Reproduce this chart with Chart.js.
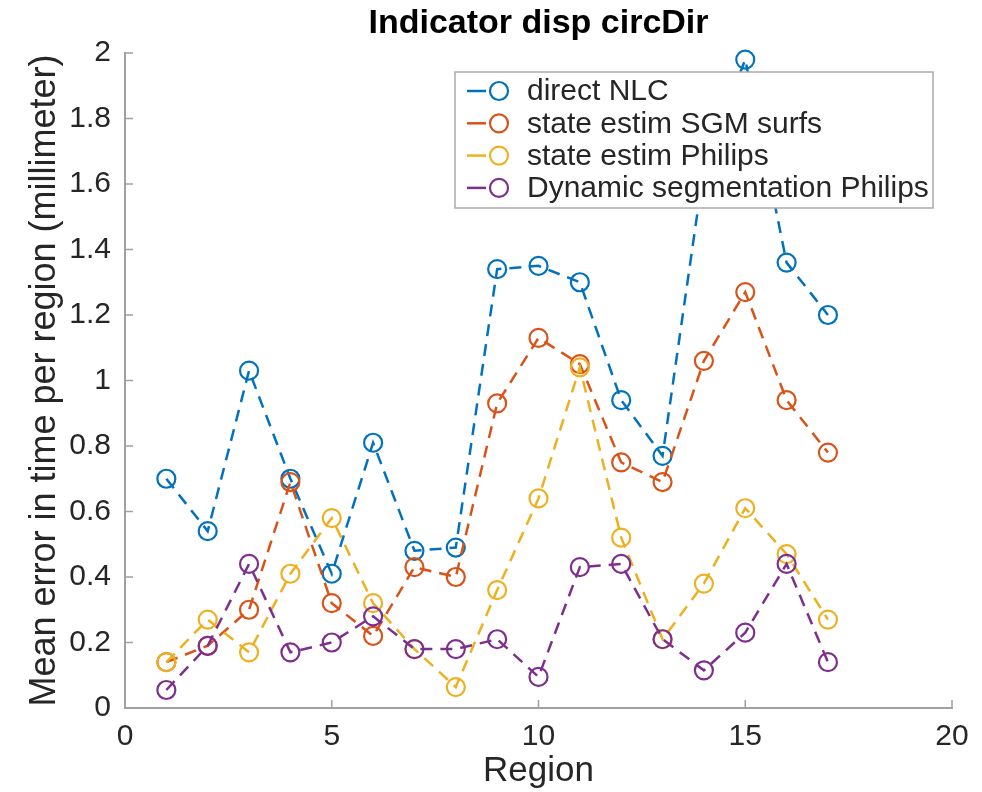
<!DOCTYPE html>
<html>
<head>
<meta charset="utf-8">
<title>Indicator disp circDir</title>
<script src="https://cdn.jsdelivr.net/npm/chart.js@4.4.1/dist/chart.umd.min.js"></script>
<style>
  body { margin: 0; background: #fff; }
  #wrap { width: 982px; height: 792px; }
</style>
</head>
<body>
<div id="wrap"><canvas id="myChart" width="982" height="792"></canvas></div>
<script>
const regions = [1, 2, 3, 4, 5, 6, 7, 8, 9, 10, 11, 12, 13, 14, 15, 16, 17];
const directNLC = [0.70, 0.54, 1.03, 0.70, 0.41, 0.81, 0.48, 0.49, 1.34, 1.35, 1.30, 0.94, 0.77, 1.65, 1.98, 1.36, 1.20];
const sgmSurfs = [0.14, 0.19, 0.30, 0.69, 0.32, 0.22, 0.43, 0.40, 0.93, 1.13, 1.05, 0.75, 0.69, 1.06, 1.27, 0.94, 0.78];
const estimPhilips = [0.14, 0.27, 0.17, 0.41, 0.58, 0.32, 0.18, 0.064, 0.36, 0.64, 1.04, 0.52, 0.21, 0.38, 0.61, 0.47, 0.27];
const dynSegPhilips = [0.055, 0.19, 0.44, 0.17, 0.20, 0.28, 0.18, 0.18, 0.21, 0.095, 0.43, 0.44, 0.21, 0.115, 0.23, 0.44, 0.14];
const seriesNames = ["direct NLC", "state estim SGM surfs", "state estim Philips", "Dynamic segmentation Philips"];
const seriesColors = ["#0072BD", "#D95319", "#EDB120", "#7E2F8E"];
const xTicks = [0, 5, 10, 15, 20];

const fontFam = "'Liberation Sans', Arial, Helvetica, sans-serif";
const textCol = "#262626";
const axisCol = "#a0a0a0";

function makeSet(i, values) {
  return {
    label: seriesNames[i],
    data: regions.map((r, k) => ({ x: r, y: values[k] })),
    borderColor: seriesColors[i],
    backgroundColor: "rgba(0,0,0,0)",
    pointBorderColor: seriesColors[i],
    pointBackgroundColor: "rgba(0,0,0,0)",
    pointRadius: 9,
    pointBorderWidth: 2.2,
    borderWidth: 2.5,
    borderDash: [12, 8],
    tension: 0,
    fill: false,
    clip: false,
    order: 4 - i
  };
}

// inward tick marks like matlab
const tickMarks = {
  id: "tickMarks",
  afterDraw(chart) {
    const ctx = chart.ctx;
    const xs = chart.scales.x;
    const ys = chart.scales.y;
    const area = chart.chartArea;
    ctx.save();
    ctx.strokeStyle = axisCol;
    ctx.lineWidth = 1.5;
    ctx.beginPath();
    xs.ticks.forEach(t => {
      const px = xs.getPixelForValue(t.value);
      ctx.moveTo(px, area.bottom);
      ctx.lineTo(px, area.bottom - 8);
    });
    ys.ticks.forEach(t => {
      const py = ys.getPixelForValue(t.value);
      ctx.moveTo(area.left, py);
      ctx.lineTo(area.left + 8, py);
    });
    ctx.stroke();
    ctx.restore();
  }
};

// legend box inside the axes, top right
const boxLegend = {
  id: "boxLegend",
  afterDatasetsDraw(chart) {
    const ctx = chart.ctx;
    const bx = 455, by = 72, bw = 478, bh = 136;
    ctx.save();
    ctx.fillStyle = "#fff";
    ctx.fillRect(bx, by, bw, bh);
    ctx.strokeStyle = "#aaaaaa";
    ctx.lineWidth = 1.5;
    ctx.strokeRect(bx, by, bw, bh);
    ctx.font = "30px " + fontFam;
    ctx.textBaseline = "middle";
    ctx.textAlign = "left";
    seriesNames.forEach((name, i) => {
      const cy = 91 + i * 32.3;
      ctx.strokeStyle = seriesColors[i];
      ctx.lineWidth = 2.5;
      ctx.beginPath();
      ctx.moveTo(467, cy);
      ctx.lineTo(486, cy);
      ctx.stroke();
      ctx.lineWidth = 2.2;
      ctx.beginPath();
      ctx.arc(499, cy, 9, 0, Math.PI * 2);
      ctx.stroke();
      ctx.fillStyle = textCol;
      ctx.fillText(name, 527, cy + 1);
    });
    ctx.restore();
  }
};

const ctx = document.getElementById("myChart");

new Chart(ctx, {
  type: "line",
  data: {
    datasets: [
      makeSet(0, directNLC),
      makeSet(1, sgmSurfs),
      makeSet(2, estimPhilips),
      makeSet(3, dynSegPhilips)
    ]
  },
  options: {
    responsive: false,
    animation: false,
    layout: { padding: { left: 0, right: 30, top: 0, bottom: 0 } },
    plugins: {
      legend: { display: false },
      tooltip: { enabled: false },
      title: {
        display: true,
        text: "Indicator disp circDir",
        fullSize: false,
        color: "#000",
        font: { family: fontFam, size: 34, weight: "bold", lineHeight: 1.2 },
        padding: { top: 3, bottom: 9.2 }
      }
    },
    scales: {
      x: {
        type: "linear",
        min: 0,
        max: 20,
        afterBuildTicks: (scale) => { scale.ticks = xTicks.map(v => ({ value: v })); },
        afterFit: (scale) => { scale.height = 84; },
        grid: { display: true, drawOnChartArea: false, drawTicks: false },
        border: { display: true, color: axisCol, width: 2 },
        ticks: { color: textCol, padding: 11, maxRotation: 0, font: { family: fontFam, size: 30 } },
        title: {
          display: true,
          text: "Region",
          color: textCol,
          font: { family: fontFam, size: 35, lineHeight: 1.2 },
          padding: { top: 0, bottom: 0 }
        }
      },
      y: {
        min: 0,
        max: 2,
        ticks: {
          stepSize: 0.2,
          color: textCol,
          padding: 14,
          font: { family: fontFam, size: 30 },
          callback: (v) => String(Number(v.toFixed(1)))
        },
        afterFit: (scale) => { scale.width = 125; },
        grid: { display: true, drawOnChartArea: false, drawTicks: false },
        border: { display: true, color: axisCol, width: 2 },
        title: {
          display: true,
          text: "Mean error in time per region (millimeter)",
          color: textCol,
          font: { family: fontFam, size: 36, lineHeight: 1.2 },
          padding: { top: 23, bottom: 0 }
        }
      }
    }
  },
  plugins: [tickMarks, boxLegend]
});
</script>
</body>
</html>
